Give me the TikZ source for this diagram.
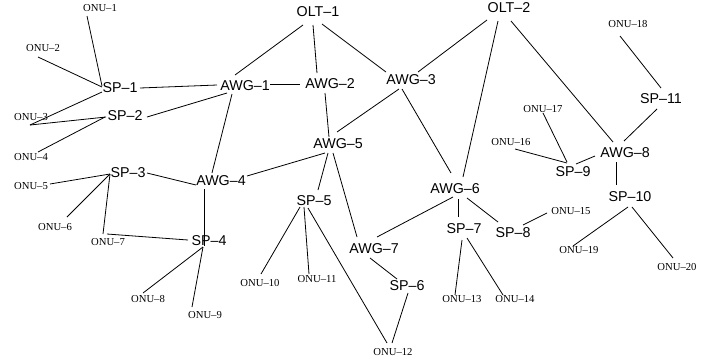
\documentclass[tikz,border=0pt]{standalone}
\usepackage{fontspec}
\setmainfont{Liberation Serif}
\newfontfamily\hvfont{Liberation Sans}
\usetikzlibrary{calc}
\tikzset{
  big/.style={inner sep=0pt, font=\hvfont\fontsize{10.7}{12}\selectfont},
  onu/.style={inner sep=0pt, font=\fontsize{8}{9}\selectfont},
  link/.style={line width=0.6pt, black},
}
\newcommand{\lnk}[4]{\draw[link] ($(#1)+#2$) -- ($(#3)+#4$);}
\begin{document}
\begin{tikzpicture}[x=0.75pt,y=-0.75pt]
\useasboundingbox (0,0) rectangle (713,362);
% nodes
\node[onu] (onu1) at (100,8) {ONU–1};
\node[onu] (onu2) at (43,48) {ONU–2};
\node[big] (sp1) at (120,88) {SP–1};
\node[onu] (onu3) at (31,117) {ONU–3};
\node[big] (sp2) at (125,116) {SP–2};
\node[onu] (onu4) at (31,157) {ONU–4};
\node[big] (awg1) at (245,86) {AWG–1};
\node[big] (olt1) at (318,12) {OLT–1};
\node[big] (awg2) at (330,84) {AWG–2};
\node[big] (awg3) at (411,80) {AWG–3};
\node[big] (awg5) at (338,144) {AWG–5};
\node[big] (olt2) at (509,8) {OLT–2};
\node[onu] (onu18) at (628,24) {ONU–18};
\node[big] (sp11) at (661,99) {SP–11};
\node[onu] (onu17) at (543,109) {ONU–17};
\node[onu] (onu16) at (511,142) {ONU–16};
\node[big] (awg8) at (625,153) {AWG–8};
\node[big] (sp9) at (573,172) {SP–9};
\node[big] (sp10) at (630,197) {SP–10};
\node[onu] (onu15) at (571,211) {ONU–15};
\node[big] (sp8) at (513,233) {SP–8};
\node[onu] (onu19) at (579,250) {ONU–19};
\node[onu] (onu20) at (677,267) {ONU–20};
\node[onu] (onu14) at (515,299) {ONU–14};
\node[onu] (onu13) at (462,299) {ONU–13};
\node[big] (awg6) at (455,189) {AWG–6};
\node[big] (sp7) at (464,229) {SP–7};
\node[big] (awg7) at (374,249) {AWG–7};
\node[big] (sp6) at (407,286) {SP–6};
\node[onu] (onu12) at (393,352) {ONU–12};
\node[big] (sp5) at (314,201) {SP–5};
\node[onu] (onu10) at (260,283) {ONU–10};
\node[onu] (onu11) at (317,279) {ONU–11};
\node[big] (sp3) at (128,173) {SP–3};
\node[big] (awg4) at (221,181) {AWG–4};
\node[onu] (onu5) at (31,186) {ONU–5};
\node[onu] (onu6) at (55,227) {ONU–6};
\node[onu] (onu7) at (108,242) {ONU–7};
\node[big] (sp4) at (209,241) {SP–4};
\node[onu] (onu8) at (148,299) {ONU–8};
\node[onu] (onu9) at (205,315) {ONU–9};
% links
\lnk{onu1}{(-13,8)}{sp1}{(-18,-2)}
\lnk{onu2}{(-5,9)}{sp1}{(-18,-1)}
\lnk{sp1}{(-18,4)}{onu3}{(-1,8)}
\lnk{onu3}{(-1,8)}{sp2}{(-19,1)}
\lnk{onu4}{(7,-5)}{sp2}{(-20,1)}
\lnk{sp1}{(20,0)}{awg1}{(-28,-1)}
\lnk{sp2}{(22,1)}{awg1}{(-18,7)}
\lnk{awg1}{(-13,8)}{awg4}{(-9,-8)}
\lnk{awg1}{(-10,-11)}{olt1}{(-15,13)}
\lnk{awg1}{(25,-2)}{awg2}{(-30,0)}
\lnk{olt1}{(-5,13)}{awg2}{(-13,-11)}
\lnk{olt1}{(4,12)}{awg3}{(-25,-8)}
\lnk{awg3}{(7,-8)}{olt2}{(-22,12)}
\lnk{awg2}{(-5,9)}{awg5}{(-9,-7)}
\lnk{awg3}{(-12,9)}{awg5}{(-1,-12)}
\lnk{awg3}{(-9,9)}{awg6}{(-4,-16)}
\lnk{olt2}{(-11,13)}{awg6}{(8,-12)}
\lnk{olt2}{(2,13)}{awg8}{(-12,-11)}
\lnk{awg8}{(-1,-12)}{sp11}{(-4,10)}
\lnk{onu18}{(-8,12)}{sp11}{(0,-11)}
\lnk{onu17}{(0,4)}{sp9}{(-6,-10)}
\lnk{onu16}{(4,7)}{sp9}{(-6,-9)}
\lnk{sp9}{(3,-8)}{awg8}{(-30,3)}
\lnk{awg8}{(-9,9)}{sp10}{(-14,-12)}
\lnk{awg5}{(-13,9)}{awg4}{(26,-5)}
\lnk{awg5}{(-10,9)}{sp5}{(4,-11)}
\lnk{awg5}{(-5,9)}{awg7}{(-17,-12)}
\lnk{sp5}{(-14,6)}{onu10}{(1,-9)}
\lnk{sp5}{(-10,6)}{onu11}{(-8,-5)}
\lnk{sp5}{(-6,7)}{onu12}{(-6,-9)}
\lnk{sp6}{(1,7)}{onu12}{(-1,-9)}
\lnk{awg7}{(-4,9)}{sp6}{(-10,-7)}
\lnk{awg7}{(3,-12)}{awg6}{(-2,8)}
\lnk{awg6}{(3,10)}{sp7}{(-6,-12)}
\lnk{awg6}{(12,9)}{sp8}{(-15,-11)}
\lnk{sp7}{(-2,11)}{onu13}{(-7,-4)}
\lnk{sp7}{(3,9)}{onu14}{(-12,-4)}
\lnk{sp8}{(10,-8)}{onu15}{(-24,2)}
\lnk{sp10}{(-2,10)}{onu19}{(-6,-4)}
\lnk{sp10}{(2,10)}{onu20}{(-4,-9)}
\lnk{sp3}{(19,0)}{awg4}{(-25,4)}
\lnk{onu5}{(19,-2)}{sp3}{(-18,1)}
\lnk{onu6}{(12,-10)}{sp3}{(-18,1)}
\lnk{onu7}{(-5,-8)}{sp3}{(-18,1)}
\lnk{onu7}{(-1,-8)}{sp4}{(-21,-1)}
\lnk{awg4}{(-17,8)}{sp4}{(-5,5)}
\lnk{sp4}{(-6,6)}{onu8}{(-5,-6)}
\lnk{sp4}{(-6,6)}{onu9}{(-13,-8)}
\end{tikzpicture}
\end{document}
